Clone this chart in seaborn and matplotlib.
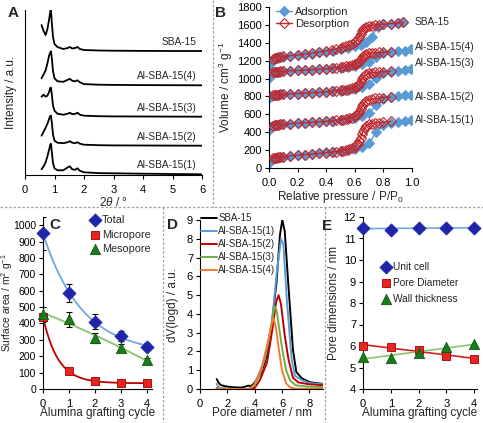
import numpy as np
import pandas as pd
import matplotlib
matplotlib.use("Agg")
import matplotlib.pyplot as plt
from matplotlib.lines import Line2D
import seaborn as sns

# -----------------------------
# Data: A (SAXS patterns)
# -----------------------------
xrd_names = ["SBA-15", "Al-SBA-15(4)", "Al-SBA-15(3)", "Al-SBA-15(2)", "Al-SBA-15(1)"]
xrd_tth = [0.56, 0.63, 0.70, 0.76, 0.82, 0.86, 0.88, 0.91, 0.95, 1.0, 1.1, 1.3,
           1.45, 1.52, 1.6, 1.7, 1.78, 1.86, 2.0, 2.5, 3.0, 4.0, 5.0, 6.0]
xrd_sba = [26, 20, 16, 22, 32, 40, 41, 28, 14, 7, 4, 2, 3, 4, 2.5, 3, 4, 2, 1, 0.5, 0.3, 0.1, 0, 0]
xrd_al4 = [7, 11, 15, 22, 30, 33, 34, 27, 14, 7, 4, 3.5, 5.5, 6.5, 4.5, 4, 5, 3, 1.2, 0.6, 0.4, 0.2, 0.1, 0]
xrd_al3 = [20, 22, 20, 21, 25, 29, 29, 22, 11, 6, 3, 2, 3, 4, 2.5, 2.8, 4, 2, 1, 0.5, 0.3, 0.2, 0.1, 0]
xrd_al2 = [10, 14, 18, 22, 27, 30, 30, 23, 11, 5, 3, 2.5, 3.5, 4.5, 3, 2.5, 3.5, 2, 1, 0.5, 0.3, 0.2, 0.1, 0]
xrd_al1 = [5, 8, 12, 18, 25, 30, 30.5, 22, 11, 6, 4, 4, 7, 8, 5, 4.5, 6, 3.5, 2, 1.2, 1, 0.6, 0.3, 0]
xrd_offset = [124, 89.7, 58.3, 29.3, 0.7]
xrd_label_y = [133, 99, 67, 38, 10]

# -----------------------------
# Data: B (N2 isotherms)
# -----------------------------
iso_names = ["SBA-15", "Al-SBA-15(4)", "Al-SBA-15(3)", "Al-SBA-15(2)", "Al-SBA-15(1)"]
p_ads_sba = [0, 0.01, 0.02, 0.04, 0.06, 0.08, 0.1, 0.15, 0.2, 0.25, 0.3, 0.35, 0.4, 0.45,
             0.5, 0.55, 0.6, 0.64, 0.68, 0.72, 0.76, 0.8, 0.85, 0.9, 0.94]
p_ads_al = [0, 0.01, 0.02, 0.04, 0.06, 0.08, 0.1, 0.15, 0.2, 0.25, 0.3, 0.35, 0.4, 0.45,
            0.5, 0.55, 0.6, 0.65, 0.7, 0.75, 0.8, 0.85, 0.9, 0.95, 0.99]
p_des_sba = [0.94, 0.9, 0.85, 0.8, 0.77, 0.74, 0.72, 0.7, 0.68, 0.67, 0.66, 0.65, 0.64, 0.63,
             0.62, 0.61, 0.6, 0.58, 0.56, 0.54, 0.52, 0.5, 0.47, 0.44, 0.4, 0.35, 0.3, 0.25,
             0.2, 0.15, 0.1, 0.08, 0.06, 0.05, 0.04, 0.03]
p_des_al = [0.85, 0.8, 0.77, 0.74, 0.72, 0.7, 0.68, 0.67, 0.66, 0.65, 0.64, 0.63, 0.62, 0.61,
            0.6, 0.58, 0.56, 0.54, 0.52, 0.5, 0.47, 0.44, 0.4, 0.35, 0.3, 0.25, 0.2, 0.15,
            0.1, 0.08, 0.06, 0.05, 0.04, 0.03]

ads_sba = [1095, 1165, 1200, 1222, 1232, 1240, 1245, 1255, 1262, 1270, 1278, 1290, 1300, 1312,
           1325, 1345, 1362, 1375, 1405, 1465, 1575, 1605, 1610, 1617, 1625]
des_sba = [1625, 1618, 1612, 1605, 1600, 1596, 1590, 1583, 1575, 1565, 1550, 1528, 1500, 1468,
           1440, 1420, 1405, 1385, 1370, 1358, 1348, 1340, 1328, 1318, 1308, 1295, 1283, 1272,
           1262, 1254, 1246, 1242, 1236, 1232, 1228, 1222]
ads_al4 = [1010, 1045, 1060, 1070, 1075, 1078, 1080, 1085, 1090, 1094, 1098, 1102, 1107, 1113,
           1120, 1130, 1142, 1160, 1185, 1240, 1285, 1296, 1303, 1312, 1325]
des_al4 = [1295, 1292, 1290, 1287, 1284, 1280, 1270, 1262, 1250, 1232, 1210, 1190, 1176, 1166,
           1158, 1147, 1140, 1134, 1129, 1125, 1119, 1114, 1109, 1103, 1098, 1094, 1090, 1086,
           1082, 1080, 1078, 1077, 1075, 1073]
ads_al3 = [780, 800, 810, 817, 821, 824, 826, 830, 833, 837, 841, 845, 850, 856,
           863, 872, 885, 905, 935, 1010, 1065, 1078, 1085, 1095, 1110]
des_al3 = [1080, 1075, 1072, 1068, 1064, 1058, 1045, 1035, 1018, 995, 965, 940, 922, 910,
           901, 890, 882, 876, 871, 867, 862, 857, 852, 846, 841, 837, 833, 830,
           826, 824, 821, 819, 817, 814]
ads_al2 = [430, 455, 468, 478, 484, 488, 492, 498, 503, 508, 513, 519, 525, 532,
           540, 550, 563, 585, 620, 700, 775, 795, 805, 812, 822]
des_al2 = [795, 788, 783, 778, 772, 765, 750, 738, 718, 690, 655, 625, 603, 590,
           580, 565, 556, 549, 543, 539, 533, 528, 524, 518, 513, 508, 503, 498,
           492, 489, 485, 483, 480, 476]
ads_al1 = [55, 85, 100, 112, 120, 126, 130, 138, 146, 153, 160, 168, 176, 185,
           195, 206, 220, 240, 280, 400, 480, 505, 515, 525, 540]
des_al1 = [522, 515, 510, 505, 498, 490, 470, 450, 420, 385, 340, 300, 275, 255,
           242, 225, 212, 205, 198, 192, 185, 180, 175, 167, 160, 153, 146, 139,
           131, 127, 122, 119, 116, 112]
iso_label_y = [1628, 1350, 1172, 794, 538]

# -----------------------------
# Data: C (surface area) and E (pore dimensions)
# -----------------------------
cycles = [0, 1, 2, 3, 4]
sa_total = [950, 587, 410, 323, 258]
sa_total_err = [100, 55, 45, 30, 20]
sa_micro = [440, 107, 48, 38, 35]
sa_meso = [455, 425, 313, 248, 177]
sa_meso_err = [45, 45, 30, 25, 15]

unit_cell = [11.5, 11.4, 11.5, 11.5, 11.5]
unit_cell_err = [0.08, 0.12, 0.08, 0.08, 0.08]
pore_diam = [6.0, 5.95, 5.82, 5.55, 5.4]
wall_thick = [5.5, 5.45, 5.68, 5.95, 6.1]

# -----------------------------
# Data: D (pore size distributions)
# -----------------------------
psd_names = ["SBA-15", "Al-SBA-15(1)", "Al-SBA-15(2)", "Al-SBA-15(3)", "Al-SBA-15(4)"]
psd_d_sba = [1.22, 1.35, 1.5, 1.8, 2.3, 2.8, 3.1, 3.4, 3.55, 3.7, 3.9, 4.15, 4.5, 4.9, 5.25,
             5.6, 5.85, 6.02, 6.2, 6.45, 6.8, 7.05, 7.45, 8.05, 9.0]
psd_v_sba = [0.53, 0.35, 0.22, 0.15, 0.1, 0.08, 0.08, 0.15, 0.18, 0.15, 0.25, 0.5, 0.9, 1.8, 3.4,
             5.7, 8.2, 9.0, 8.4, 5.7, 2.1, 0.9, 0.57, 0.36, 0.27]
psd_d_al1 = [1.22, 1.4, 1.6, 2.5, 3.5, 3.9, 4.25, 4.75, 5.25, 5.6, 5.93, 6.1, 6.35, 6.7, 6.95,
             7.5, 8.0, 9.0]
psd_v_al1 = [0.27, 0.05, 0.02, 0.0, 0.0, 0.1, 0.7, 1.6, 3.4, 6.1, 8.0, 7.7, 4.8, 1.6, 0.7,
             0.45, 0.32, 0.25]
psd_d_al2 = [1.22, 1.4, 2.5, 3.6, 4.0, 4.4, 4.9, 5.3, 5.56, 5.75, 5.93, 6.2, 6.47, 6.8, 7.2,
             8.0, 9.0]
psd_v_al2 = [0.05, 0.02, 0.0, 0.0, 0.05, 0.5, 1.4, 3.2, 4.6, 5.0, 4.5, 2.85, 1.6, 0.6, 0.35,
             0.25, 0.2]
psd_d_al3 = [1.22, 2.5, 3.6, 4.0, 4.5, 5.0, 5.25, 5.45, 5.6, 5.8, 6.0, 6.3, 6.6, 7.0, 8.0, 9.0]
psd_v_al3 = [0.02, 0.0, 0.0, 0.2, 1.0, 2.5, 3.6, 4.4, 4.2, 3.2, 2.2, 1.0, 0.45, 0.2, 0.12, 0.1]
psd_d_al4 = [1.22, 2.5, 3.6, 4.0, 4.5, 5.0, 5.2, 5.38, 5.55, 5.75, 6.0, 6.3, 6.6, 7.0, 9.0]
psd_v_al4 = [0.02, 0.0, 0.0, 0.25, 1.1, 2.6, 3.3, 3.8, 3.3, 2.2, 1.0, 0.3, 0.08, 0.02, 0.0]

# -----------------------------
# Style
# -----------------------------
sns.set_theme(style="ticks")
plt.rcParams.update({
    "font.family": ["Liberation Sans", "DejaVu Sans"],
    "font.size": 8,
    "axes.labelsize": 8.5,
    "xtick.labelsize": 8,
    "ytick.labelsize": 8,
    "axes.linewidth": 0.8,
    "axes.edgecolor": "black",
    "xtick.major.size": 3,
    "ytick.major.size": 3,
    "xtick.major.width": 0.8,
    "ytick.major.width": 0.8,
    "xtick.major.pad": 4,
    "ytick.major.pad": 2,
    "axes.labelpad": 2,
    "mathtext.fontset": "custom",
    "mathtext.rm": "Liberation Sans",
    "mathtext.it": "Liberation Sans:italic",
    "mathtext.default": "regular",
})

W, H = 483, 423
fig = plt.figure(figsize=(W / 100, H / 100), dpi=100)


def px_axes(left, top, right, bottom):
    return fig.add_axes([left / W, 1 - bottom / H, (right - left) / W, (bottom - top) / H])


def style_axes(ax, ylabel_x):
    for s in ["top", "right"]:
        ax.spines[s].set_visible(False)
    ax.tick_params(direction="out", colors="black")
    ax.yaxis.set_label_coords(ylabel_x, 0.5)


ADS_BLUE = "#5B9BD5"
DES_RED = "#C0282D"

# -----------------------------
# A
# -----------------------------
axA = px_axes(25, 10, 202, 175)
xrd_all = [xrd_sba, xrd_al4, xrd_al3, xrd_al2, xrd_al1]
for name, vals, off, ly in zip(xrd_names, xrd_all, xrd_offset, xrd_label_y):
    df = pd.DataFrame({"tth": xrd_tth, "I": np.array(vals) + off})
    sns.lineplot(data=df, x="tth", y="I", ax=axA, color="black", lw=1.3,
                 sort=False, estimator=None)
    axA.text(5.82, ly, name, ha="right", va="center", fontsize=7.3)
axA.set_xlim(0, 6)
axA.set_ylim(0, 165)
axA.set_xticks(range(7))
axA.set_yticks([])
axA.set_xlabel(r"$\mathit{2\theta}$ / °", labelpad=1)
axA.set_ylabel("Intensity / a.u.")
style_axes(axA, -0.045)

# -----------------------------
# B
# -----------------------------
axB = px_axes(269, 6.7, 412, 168.3)
ads_all = [(p_ads_sba, ads_sba), (p_ads_al, ads_al4), (p_ads_al, ads_al3),
           (p_ads_al, ads_al2), (p_ads_al, ads_al1)]
des_all = [(p_des_sba, des_sba), (p_des_al, des_al4), (p_des_al, des_al3),
           (p_des_al, des_al2), (p_des_al, des_al1)]
for i, (pa, va) in enumerate(ads_all):
    sns.lineplot(x=pa, y=va, ax=axB, color=ADS_BLUE, lw=1, marker="D", markersize=5,
                 markeredgecolor=ADS_BLUE, sort=False, estimator=None,
                 label="Adsorption" if i == 0 else None, zorder=2)
for i, (pd_, vd) in enumerate(des_all):
    sns.lineplot(x=pd_, y=vd, ax=axB, color=DES_RED, lw=1, marker="D", markersize=5,
                 markerfacecolor="none", markeredgecolor=DES_RED, markeredgewidth=0.8,
                 sort=False, estimator=None,
                 label="Desorption" if i == 0 else None, zorder=3)
for name, ly in zip(iso_names, iso_label_y):
    axB.text(1.02, ly, name, ha="left", va="center", fontsize=7.3, clip_on=False)
axB.set_xlim(0, 1.0)
axB.set_ylim(0, 1800)
axB.set_xticks(np.arange(0, 1.01, 0.2))
axB.set_xticklabels([f"{v:.1f}" for v in np.arange(0, 1.01, 0.2)])
axB.set_yticks(range(0, 1801, 200))
axB.set_xlabel("Relative pressure / P/P$_0$", labelpad=1)
axB.set_ylabel("Volume / cm$^3$ g$^{-1}$")
axB.legend(loc="upper left", bbox_to_anchor=(0.05, 1.0), frameon=False, fontsize=8,
           handlelength=1.4, handletextpad=0.3, labelspacing=0.2, borderaxespad=0,
           borderpad=0)
style_axes(axB, -0.238)

# -----------------------------
# C
# -----------------------------
def exp_decay_fit(x, y):
    x = np.asarray(x, float)
    y = np.asarray(y, float)
    best = None
    for k in np.linspace(0.1, 4, 400):
        A = np.column_stack([np.ones_like(x), np.exp(-k * x)])
        coef = np.linalg.lstsq(A, y, rcond=None)[0]
        err = ((A @ coef - y) ** 2).sum()
        if best is None or err < best[0]:
            best = (err, k, coef)
    _, k, coef = best
    xs = np.linspace(0, 4, 200)
    return xs, coef[0] + coef[1] * np.exp(-k * xs)


axC = px_axes(43, 217, 152, 389)
xs, ys = exp_decay_fit(cycles, sa_total)
sns.lineplot(x=xs, y=ys, ax=axC, color="#6FA8DC", lw=1.3)
xs, ys = exp_decay_fit(cycles, sa_micro)
sns.lineplot(x=xs, y=ys, ax=axC, color="#C00000", lw=1.3)
pc = np.polyfit(cycles, sa_meso, 2)
xs = np.linspace(0, 4, 200)
sns.lineplot(x=xs, y=np.polyval(pc, xs), ax=axC, color="#8DC26F", lw=1.3)
axC.errorbar(cycles, sa_total, yerr=sa_total_err, fmt="none", ecolor="black",
             elinewidth=0.8, capsize=2, capthick=0.8, zorder=3)
axC.errorbar(cycles, sa_meso, yerr=sa_meso_err, fmt="none", ecolor="black",
             elinewidth=0.8, capsize=2, capthick=0.8, zorder=3)
sns.scatterplot(x=cycles, y=sa_total, ax=axC, marker="D", s=45, color="#1F24A8",
                edgecolor="#1F24A8", label="Total", zorder=4, clip_on=False)
sns.scatterplot(x=cycles, y=sa_micro, ax=axC, marker="s", s=40, color="#E8251F",
                edgecolor="#A00000", linewidth=0.6, label="Micropore", zorder=4, clip_on=False)
sns.scatterplot(x=cycles, y=sa_meso, ax=axC, marker="^", s=55, color="#1B7A1B",
                edgecolor="#0F5A0F", linewidth=0.6, label="Mesopore", zorder=4, clip_on=False)
axC.set_xlim(0, 4.2)
axC.set_ylim(0, 1050)
axC.set_xticks(cycles)
axC.set_yticks(range(0, 1001, 100))
axC.tick_params(axis="y", labelsize=7.5)
axC.set_xlabel("Alumina grafting cycle", labelpad=-1)
axC.set_ylabel("Surface area / m$^2$ g$^{-1}$", fontsize=7.4)
axC.legend(loc="upper left", bbox_to_anchor=(0.44, 1.01), frameon=False, fontsize=7.8,
           handlelength=0.8, handletextpad=0.2, labelspacing=0.4, borderaxespad=0,
           borderpad=0)
style_axes(axC, -0.255)

# -----------------------------
# D
# -----------------------------
axD = px_axes(200, 220, 323, 389)
psd_all = [(psd_d_sba, psd_v_sba), (psd_d_al1, psd_v_al1), (psd_d_al2, psd_v_al2),
           (psd_d_al3, psd_v_al3), (psd_d_al4, psd_v_al4)]
psd_colors = ["black", "#5B9BD5", "#C00000", "#70AD47", "#ED7D31"]
for name, (d, v), c in zip(psd_names, psd_all, psd_colors):
    sns.lineplot(x=d, y=v, ax=axD, color=c, lw=1.4, label=name, sort=False, estimator=None)
axD.set_xlim(0, 9)
axD.set_ylim(0, 9)
axD.set_xticks([0, 2, 4, 6, 8])
axD.set_yticks(range(10))
axD.set_xlabel("Pore diameter / nm", labelpad=-1)
axD.set_ylabel("dV(logd) / a.u.")
axD.legend(loc="upper left", bbox_to_anchor=(0.01, 1.04), frameon=False, fontsize=7,
           handlelength=1.6, handletextpad=0.15, labelspacing=0.3, borderaxespad=0,
           borderpad=0)
style_axes(axD, -0.171)

# -----------------------------
# E
# -----------------------------
axE = px_axes(363, 217, 477, 389)
xs = np.linspace(0, 4, 50)
for vals, c in [(unit_cell, "#6FA8DC"), (pore_diam, "#D32020"), (wall_thick, "#8DC26F")]:
    p = np.polyfit(cycles, vals, 1)
    sns.lineplot(x=xs, y=np.polyval(p, xs), ax=axE, color=c, lw=1.2)
axE.errorbar(cycles, unit_cell, yerr=unit_cell_err, fmt="none", ecolor="black",
             elinewidth=0.8, capsize=2, capthick=0.8, zorder=3)
sns.scatterplot(x=cycles, y=unit_cell, ax=axE, marker="D", s=45, color="#1F24A8",
                edgecolor="#1F24A8", label="Unit cell", zorder=4, clip_on=False)
sns.scatterplot(x=cycles, y=pore_diam, ax=axE, marker="s", s=40, color="#E8251F",
                edgecolor="#A00000", linewidth=0.6, label="Pore Diameter", zorder=4, clip_on=False)
sns.scatterplot(x=cycles, y=wall_thick, ax=axE, marker="^", s=55, color="#1B7A1B",
                edgecolor="#0F5A0F", linewidth=0.6, label="Wall thickness", zorder=4, clip_on=False)
axE.set_xlim(0, 4.1)
axE.set_ylim(4, 12)
axE.set_xticks(cycles)
axE.set_yticks(range(4, 13))
axE.set_xlabel("Alumina grafting cycle", labelpad=-1)
axE.set_ylabel("Pore dimensions / nm")
axE.legend(loc="upper left", bbox_to_anchor=(0.17, 0.74), frameon=False, fontsize=7.3,
           handlelength=0.8, handletextpad=0.2, labelspacing=0.6, borderaxespad=0,
           borderpad=0)
style_axes(axE, -0.202)

# -----------------------------
# Panel letters and separators
# -----------------------------
for lab, x, y in [("A", 13, 13), ("B", 220, 13), ("C", 55, 225), ("D", 173, 225), ("E", 327, 226)]:
    fig.text(x / W, 1 - y / H, lab, fontsize=11, fontweight="bold", ha="center", va="center")

sep = dict(color="#A0A0A0", lw=0.9, ls=(0, (2, 1.5)), transform=fig.transFigure)
fig.add_artist(Line2D([213 / W, 213 / W], [1, 1 - 207 / H], **sep))
fig.add_artist(Line2D([0, 1], [1 - 207 / H, 1 - 207 / H], **sep))
fig.add_artist(Line2D([163 / W, 163 / W], [1 - 207 / H, 0], **sep))
fig.add_artist(Line2D([325 / W, 325 / W], [1 - 207 / H, 0], **sep))

fig.savefig("out.png", dpi=100)
plt.close(fig)
